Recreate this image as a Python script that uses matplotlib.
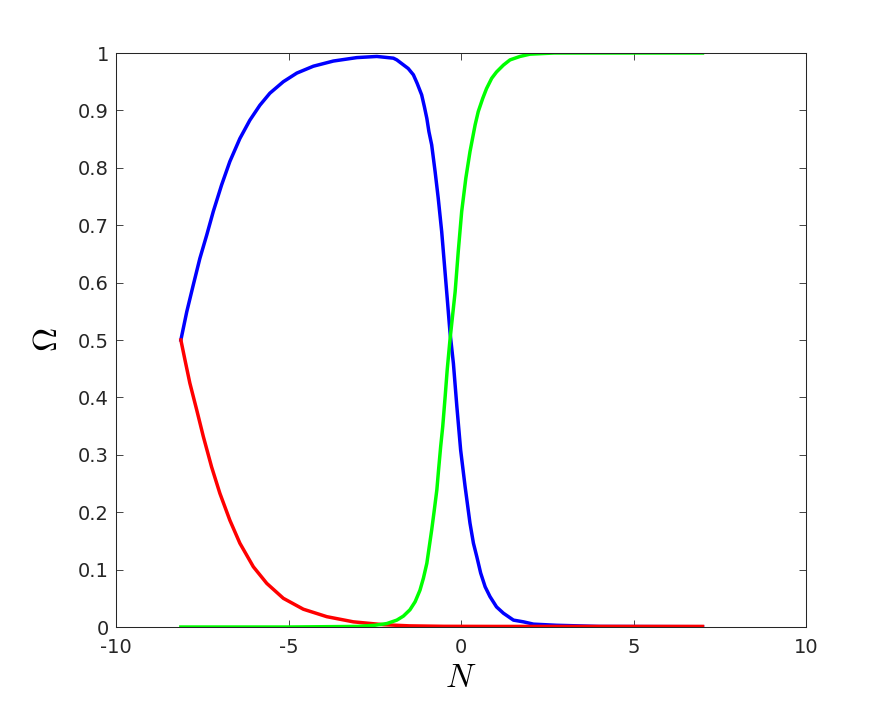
import numpy as np
import matplotlib
matplotlib.use("Agg")
import matplotlib.pyplot as plt

plt.rcParams['font.family'] = ['DejaVu Sans']
plt.rcParams['mathtext.fontset'] = 'cm'

# values
N_blue = [-8.12, -7.95, -7.76, -7.57, -7.37, -7.18, -6.94, -6.70, -6.41, -6.12,
          -5.83, -5.54, -5.15, -4.76, -4.28, -3.70, -3.02, -2.44, -1.96, -1.86,
          -1.53, -1.38, -1.27, -1.14, -1.06, -0.99, -0.93, -0.85, -0.75, -0.66,
          -0.56, -0.48, -0.40, -0.32, -0.22, -0.12, -0.01, 0.12, 0.26, 0.36,
          0.46, 0.57, 0.70, 0.84, 1.03, 1.23, 1.52, 1.81, 2.10, 2.77, 4.0, 7.0]
om_blue = [0.500, 0.549, 0.596, 0.642, 0.683, 0.724, 0.770, 0.811, 0.851, 0.883,
           0.909, 0.930, 0.950, 0.965, 0.977, 0.986, 0.992, 0.994, 0.991, 0.988,
           0.973, 0.962, 0.947, 0.927, 0.906, 0.886, 0.863, 0.840, 0.793, 0.747,
           0.689, 0.631, 0.573, 0.514, 0.459, 0.384, 0.308, 0.244, 0.181, 0.146,
           0.122, 0.094, 0.070, 0.053, 0.035, 0.024, 0.012, 0.009, 0.005, 0.003,
           0.001, 0.0005]

N_red = [-8.12, -8.0, -7.86, -7.66, -7.47, -7.23, -6.99, -6.70, -6.41, -6.02,
         -5.63, -5.15, -4.57, -3.89, -3.12, -2.25, -1.5, -0.5, 1.0, 7.0]
om_red = [0.500, 0.465, 0.425, 0.378, 0.332, 0.279, 0.233, 0.186, 0.146, 0.105,
          0.076, 0.050, 0.031, 0.018, 0.009, 0.004, 0.002, 0.0012, 0.001, 0.001]

N_green = [-8.12, -5.0, -3.0, -2.5, -2.15, -1.86, -1.67, -1.48, -1.33, -1.19,
           -1.09, -0.99, -0.92, -0.85, -0.78, -0.70, -0.65, -0.59, -0.53, -0.46,
           -0.40, -0.32, -0.17, -0.08, 0.02, 0.14, 0.26, 0.41, 0.50, 0.63,
           0.74, 0.89, 1.03, 1.23, 1.42, 1.71, 2.0, 2.7, 7.0]
om_green = [0.0, 0.0, 0.001, 0.003, 0.006, 0.012, 0.019, 0.030, 0.044, 0.064,
            0.085, 0.111, 0.140, 0.169, 0.201, 0.239, 0.274, 0.314, 0.349, 0.401,
            0.448, 0.500, 0.584, 0.654, 0.724, 0.782, 0.828, 0.875, 0.898, 0.921,
            0.938, 0.956, 0.967, 0.979, 0.988, 0.994, 0.998, 1.0, 1.0]

xticks = [-10, -5, 0, 5, 10]
yticks = [0, 0.1, 0.2, 0.3, 0.4, 0.5, 0.6, 0.7, 0.8, 0.9, 1]
ytick_labels = ['0', '0.1', '0.2', '0.3', '0.4', '0.5', '0.6', '0.7', '0.8', '0.9', '1']

fig = plt.figure(figsize=(8.91, 7.03), dpi=100)
ax = fig.add_axes([0.1302, 0.1081, 0.7744, 0.8165])

# blue first, red over it, green on top
ax.plot(N_blue, om_blue, color='#0000ff', lw=2.5, solid_joinstyle='round')
ax.plot(N_red, om_red, color='#ff0000', lw=2.5, solid_joinstyle='round')
ax.plot(N_green, om_green, color='#00ff00', lw=2.5, solid_joinstyle='round')

ax.set_xlim(-10, 10)
ax.set_ylim(0, 1)
ax.set_xticks(xticks)
ax.set_xticklabels([str(t) for t in xticks])
ax.set_yticks(yticks)
ax.set_yticklabels(ytick_labels)

ax.tick_params(direction='in', length=5, width=0.6, top=True, right=True,
               labelsize=14, colors='#262626')
ax.tick_params(axis='x', pad=8)
ax.tick_params(axis='y', pad=5)
for sp in ax.spines.values():
    sp.set_linewidth(0.75)
    sp.set_color('#262626')

ax.set_xlabel(r'$N$', fontsize=24, labelpad=3)
ax.set_ylabel(r'$\Omega$', fontsize=24, labelpad=10)

fig.savefig('out.png', dpi=100)
